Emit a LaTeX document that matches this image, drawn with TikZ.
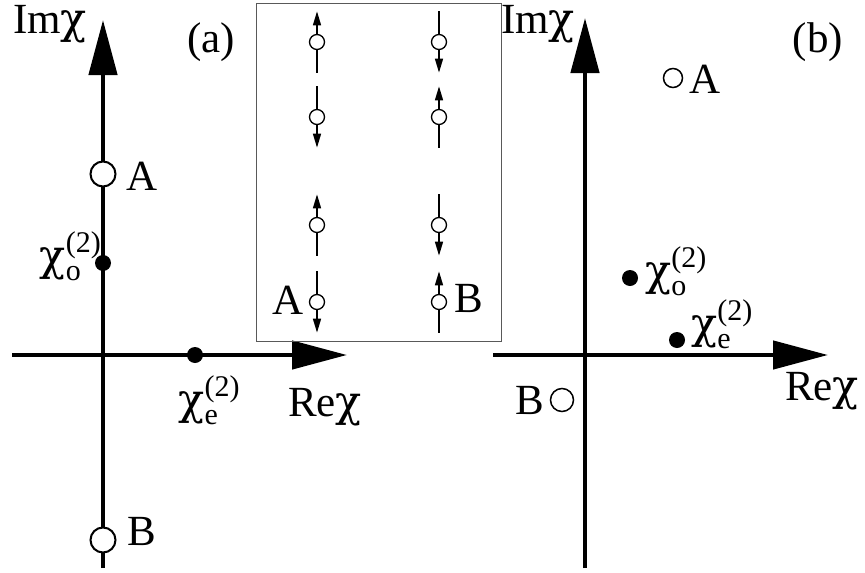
\documentclass[tikz,border=0pt]{standalone}
\usepackage{fontspec}
\setmainfont{Liberation Serif}
\newfontfamily\chifont{DejaVu Serif}
\usetikzlibrary{arrows.meta}
\newcommand{\chis}{{\chifont χ}}
\newcommand{\scr}{\fontsize{30}{32}\selectfont}
\newcommand{\chilab}[1]{\chis\rlap{\raisebox{-0.22em}{\scr #1}}\raisebox{0.42em}{\scr(2)}}
\newcommand{\spinU}[3]{\node[spin] (#1) at (#2,#3) {};
  \draw[stem] (#1.south) -- ++(0,22.5);
  \draw[sarrow] (#1.north) -- ++(0,-22.5);}
\newcommand{\spinD}[3]{\node[spin] (#1) at (#2,#3) {};
  \draw[stem] (#1.north) -- ++(0,-22.5);
  \draw[sarrow] (#1.south) -- ++(0,22.5);}
\begin{document}
\begin{tikzpicture}[x=1pt,y=-1pt,
  axis/.style={line width=4.5pt,-{Triangle[length=55pt,width=28pt]}},
  lbl/.style={inner sep=0pt,font=\fontsize{43}{45}\selectfont},
  opencirc/.style={circle,draw,line width=2pt,fill=white,minimum size=25pt,inner sep=0pt},
  opensmall/.style={circle,draw,line width=1.5pt,fill=white,minimum size=19pt,inner sep=0pt},
  dotn/.style={circle,fill=black,minimum size=16pt,inner sep=0pt},
  spin/.style={circle,draw,line width=1.3pt,fill=white,minimum size=15pt,inner sep=0pt},
  stem/.style={line width=1.5pt},
  sarrow/.style={line width=1.5pt,-{Triangle[length=14pt,width=8pt]}},
  frame/.style={draw=black!65,line width=1pt,inner sep=0pt,minimum width=245pt,minimum height=338pt}
]
\useasboundingbox (0,0) rectangle (865,573);
% ---------- (a) ----------
\coordinate (alb) at (103,568);
\coordinate (alt) at (103,20);
\coordinate (all) at (12,355);
\coordinate (alr) at (347,355);
\draw[axis] (alb) -- (alt);
\draw[axis] (all) -- (alr);
\node[opencirc] (aA) at (103,174) {};
\node[opencirc] (aB) at (103,540) {};
\node[dotn] (aO) at (103,263) {};
\node[dotn] (aE) at (195,355) {};
\node[lbl] (aAl) at (142,176) {A};
\node[lbl] (aBl) at (142,531) {B};
\node[lbl,anchor=east] (aOl) at (101,256) {\chilab{o}};
\node[lbl] (aEl) at (209,400) {\chilab{e}};
\node[lbl] (aIm) at (50,24) {Im\chis};
\node[lbl] (aRe) at (325,407) {Re\chis};
\node[lbl] (atag) at (211,42) {(a)};
% ---------- inset ----------
\node[frame] (inset) at (378.5,172) {};
\spinU{s11}{317}{42}
\spinD{s12}{439}{42}
\spinD{s21}{317}{117}
\spinU{s22}{439}{117}
\spinU{s31}{317}{225}
\spinD{s32}{439}{225}
\spinD{s41}{317}{302}
\spinU{s42}{439}{302}
\node[lbl] (iA) at (288,300) {A};
\node[lbl] (iB) at (469,298) {B};
% ---------- (b) ----------
\coordinate (blb) at (585,568);
\coordinate (blt) at (585,18);
\coordinate (bll) at (493,355);
\coordinate (blr) at (828,355);
\draw[axis] (blb) -- (blt);
\draw[axis] (bll) -- (blr);
\node[opensmall] (bA) at (673,78) {};
\node[opensmall,minimum size=23pt] (bB) at (562,400) {};
\node[dotn] (bO) at (630,278) {};
\node[dotn] (bE) at (677,340) {};
\node[lbl] (bAl) at (705,79) {A};
\node[lbl] (bBl) at (530,400) {B};
\node[lbl,anchor=west] (bOl) at (645,271) {\chilab{o}};
\node[lbl,anchor=west] (bEl) at (691,324) {\chilab{e}};
\node[lbl] (bIm) at (538,24) {Im\chis};
\node[lbl] (bRe) at (822,391) {Re\chis};
\node[lbl] (btag) at (818,42) {(b)};
\end{tikzpicture}
\end{document}
